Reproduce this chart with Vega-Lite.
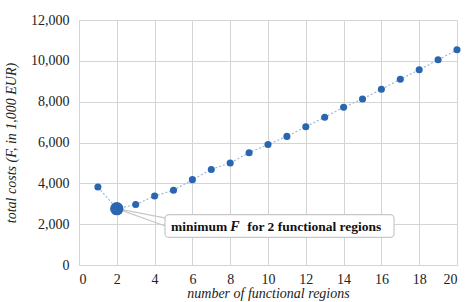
{
  "$schema": "https://vega.github.io/schema/vega-lite/v6.json",
  "width": 378,
  "height": 245,
  "autosize": {"type": "none"},
  "padding": {"left": 79, "top": 20, "right": 9, "bottom": 37},
  "background": "white",
  "config": {
    "view": {"stroke": null},
    "font": "Liberation Serif",
    "axis": {
      "labelFont": "Liberation Serif",
      "labelFontSize": 14,
      "labelColor": "#222",
      "titleFont": "Liberation Serif",
      "titleFontSize": 14,
      "titleFontStyle": "italic",
      "titleFontWeight": "normal",
      "titleColor": "#222",
      "gridColor": "#d4d4d4",
      "domainColor": "#d4d4d4",
      "ticks": false,
      "labelOverlap": false
    },
    "text": {"font": "Liberation Serif"}
  },
  "datasets": {
    "costs": [
      {"n": 1, "F": 3820},
      {"n": 2, "F": 2760},
      {"n": 3, "F": 2960},
      {"n": 4, "F": 3380},
      {"n": 5, "F": 3660},
      {"n": 6, "F": 4180},
      {"n": 7, "F": 4680},
      {"n": 8, "F": 5000},
      {"n": 9, "F": 5500},
      {"n": 10, "F": 5900},
      {"n": 11, "F": 6300},
      {"n": 12, "F": 6770},
      {"n": 13, "F": 7240},
      {"n": 14, "F": 7730},
      {"n": 15, "F": 8130},
      {"n": 16, "F": 8610},
      {"n": 17, "F": 9100},
      {"n": 18, "F": 9560},
      {"n": 19, "F": 10050},
      {"n": 20, "F": 10540}
    ]
  },
  "encoding": {
    "x": {"field": "n", "type": "quantitative", "scale": {"domain": [0, 20], "nice": false},
      "axis": {"values": [0,2,4,6,8,10,12,14,16,18,20], "title": "number of functional regions", "labelPadding": 7, "titlePadding": 0}},
    "y": {"field": "F", "type": "quantitative", "scale": {"domain": [0, 12000], "nice": false},
      "axis": {"values": [0,2000,4000,6000,8000,10000,12000], "format": ",d", "title": "total costs (F, in 1,000 EUR)", "labelPadding": 10, "titlePadding": 12}}
  },
  "layer": [
    {
      "data": {"name": "costs"},
      "mark": {"type": "line", "color": "#9bb8de", "strokeWidth": 1.2, "strokeDash": [2, 2]}
    },
    {
      "data": {"values": [{"n": 2, "F": 2760, "x2": 4.6, "y2": 1900}, {"n": 2, "F": 2760, "x2": 4.6, "y2": 2300}]},
      "mark": {"type": "rule", "color": "#c8c8c8", "strokeWidth": 1.2},
      "encoding": {
        "x2": {"field": "x2"},
        "y2": {"field": "y2"}
      }
    },
    {
      "data": {"name": "costs"},
      "transform": [{"filter": "datum.n != 2"}],
      "mark": {"type": "circle", "color": "#2a66b0", "opacity": 1, "size": 50}
    },
    {
      "data": {"name": "costs"},
      "transform": [{"filter": "datum.n == 2"}],
      "mark": {"type": "circle", "color": "#2a66b0", "opacity": 1, "size": 180}
    },
    {
      "data": {"values": [{"n": 4.55, "x2": 16.67, "F": 2470, "y2": 1350}]},
      "mark": {"type": "rect", "fill": "white", "stroke": "#c8c8c8", "strokeWidth": 1.2, "cornerRadius": 4},
      "encoding": {
        "x2": {"field": "x2"},
        "y2": {"field": "y2"}
      }
    },
    {
      "data": {"values": [{"n": 4.87, "F": 1880, "t": "minimum"}, {"n": 8.9, "F": 1880, "t": "for 2 functional regions"}]},
      "mark": {"type": "text", "align": "left", "baseline": "middle", "font": "Liberation Serif", "fontSize": 13.5, "fontWeight": "bold", "color": "#111"},
      "encoding": {
        "text": {"field": "t"}
      }
    },
    {
      "data": {"values": [{"n": 8.0, "F": 1880, "t": "F"}]},
      "mark": {"type": "text", "align": "left", "baseline": "middle", "font": "Liberation Serif", "fontSize": 14, "fontWeight": "bold", "fontStyle": "italic", "color": "#111"},
      "encoding": {
        "text": {"field": "t"}
      }
    }
  ]
}
